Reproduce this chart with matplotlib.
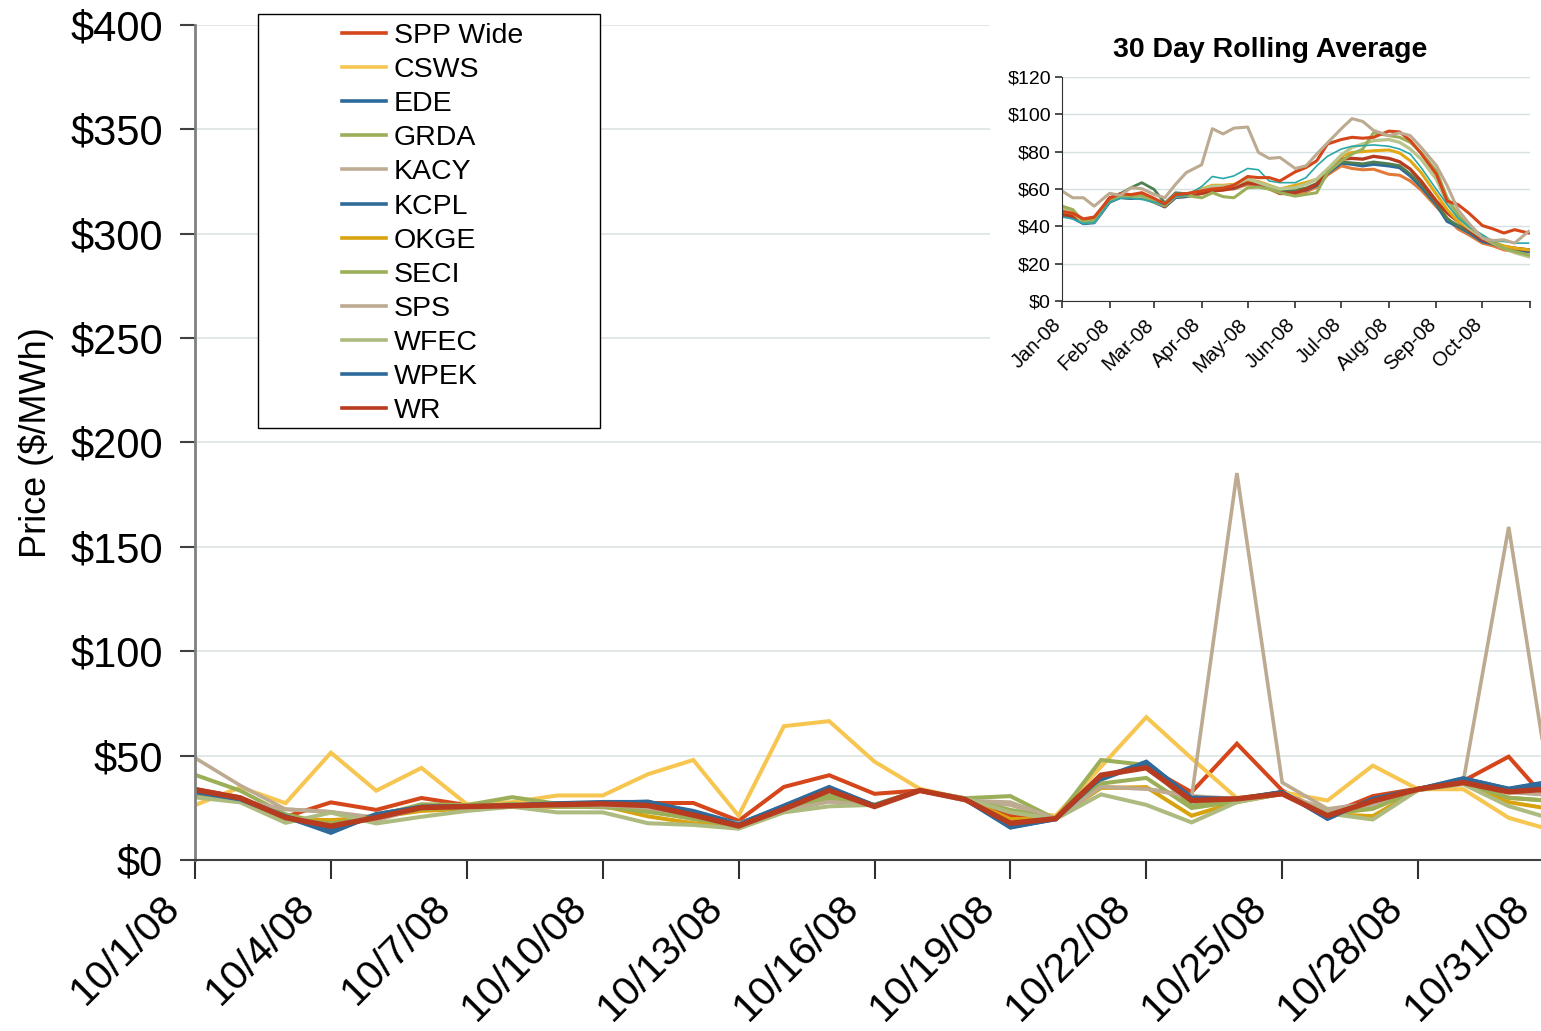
import matplotlib
matplotlib.use("Agg")
import matplotlib.pyplot as plt
import matplotlib.dates as mdates
import matplotlib.transforms as mtransforms
from matplotlib.patches import Rectangle
from datetime import datetime

plt.rcParams['font.family'] = ['Liberation Sans', 'DejaVu Sans']

# ---------------- main chart data (October 2008 daily prices, $/MWh) ----------------
days = list(range(1, 32))
tick_days = [1, 4, 7, 10, 13, 16, 19, 22, 25, 28, 31]
tick_labels = ['10/1/08', '10/4/08', '10/7/08', '10/10/08', '10/13/08', '10/16/08',
               '10/19/08', '10/22/08', '10/25/08', '10/28/08', '10/31/08']
y_ticks = [0, 50, 100, 150, 200, 250, 300, 350, 400]
y_tick_labels = ['$0', '$50', '$100', '$150', '$200', '$250', '$300', '$350', '$400']

series_names = ['SPP Wide', 'CSWS', 'EDE', 'GRDA', 'KACY', 'KCPL', 'OKGE', 'SECI',
                'SPS', 'WFEC', 'WPEK', 'WR']

spp_wide = [34.0, 30.0, 20.7, 27.6, 24.0, 29.7, 26.3, 26.5, 27.0, 27.3, 27.3, 27.3, 18.8, 35.0, 40.6, 31.7,
            33.3, 29.0, 21.2, 20.0, 40.3, 44.7, 32.5, 55.7, 33.3, 21.8, 30.6, 34.2, 37.9, 49.5, 25.0]
csws = [26.3, 34.8, 27.2, 51.4, 33.2, 44.1, 26.7, 27.7, 30.9, 30.9, 41.1, 47.9, 21.2, 64.1, 66.5, 47.1,
        34.1, 29.3, 23.6, 21.2, 44.7, 68.4, 48.7, 29.6, 32.5, 28.5, 45.2, 33.9, 33.9, 20.2, 14.0]
ede = [32.7, 29.2, 20.7, 13.0, 21.9, 25.6, 25.6, 26.0, 27.0, 27.3, 28.0, 22.8, 17.2, 26.1, 35.0, 26.1,
       33.3, 29.0, 15.5, 19.6, 39.0, 47.1, 29.6, 29.3, 32.5, 19.7, 29.0, 33.9, 39.0, 34.2, 37.9]
grda = [40.8, 33.2, 21.9, 17.0, 21.1, 26.7, 26.3, 30.1, 26.9, 26.1, 23.6, 19.6, 16.0, 23.6, 30.9, 26.4,
        33.3, 29.6, 30.6, 19.6, 47.9, 45.5, 26.1, 28.5, 31.7, 22.8, 25.0, 33.9, 37.1, 29.8, 28.2]
kacy = [33.0, 28.5, 24.3, 23.0, 20.3, 24.0, 25.5, 26.0, 25.8, 25.2, 24.4, 21.0, 17.6, 24.0, 28.0, 26.1,
        33.3, 28.5, 26.4, 19.8, 35.0, 34.1, 30.6, 29.3, 31.7, 24.0, 26.5, 33.5, 37.5, 32.5, 31.0]
kcpl = [33.0, 29.5, 21.0, 14.5, 22.0, 25.5, 25.8, 26.0, 26.8, 27.5, 27.6, 23.5, 17.5, 25.5, 34.0, 26.0,
        33.2, 29.0, 16.0, 19.8, 38.5, 46.5, 30.0, 29.0, 32.5, 20.0, 29.2, 33.9, 38.5, 33.5, 36.5]
okge = [31.1, 28.5, 19.5, 19.1, 20.5, 23.5, 24.5, 25.5, 25.5, 26.0, 20.9, 17.6, 16.3, 23.6, 29.3, 26.1,
        33.3, 29.0, 19.6, 19.8, 34.5, 34.9, 21.2, 27.7, 31.7, 22.0, 21.0, 33.5, 37.1, 27.7, 24.2]
seci = [31.5, 28.5, 19.5, 17.5, 20.5, 24.5, 25.0, 27.0, 25.5, 25.5, 23.0, 20.0, 16.0, 24.5, 29.5, 26.5,
        33.3, 29.0, 24.0, 19.8, 36.6, 39.3, 24.9, 28.0, 31.7, 22.0, 24.5, 33.5, 37.0, 29.8, 28.2]
sps = [48.9, 35.7, 24.3, 23.1, 18.8, 25.1, 25.9, 26.0, 26.1, 26.1, 25.2, 21.2, 17.6, 23.6, 28.0, 26.1,
       33.3, 28.5, 27.7, 19.8, 35.0, 34.1, 30.1, 185.3, 37.1, 24.5, 27.4, 33.9, 37.9, 159.5, 22.0]
wfec = [30.0, 27.6, 17.8, 22.7, 17.5, 20.7, 23.5, 25.5, 22.8, 22.8, 17.6, 16.8, 15.0, 22.8, 25.7, 26.4,
        33.3, 29.6, 22.8, 19.6, 31.4, 26.4, 18.0, 27.7, 31.7, 22.3, 19.4, 33.5, 36.3, 25.8, 19.4]
wpek = [32.5, 29.0, 20.5, 13.5, 21.5, 25.5, 25.8, 26.2, 27.2, 27.8, 27.8, 23.0, 17.0, 25.8, 34.5, 26.2,
        33.3, 29.0, 15.8, 19.5, 39.5, 46.8, 29.8, 29.2, 32.6, 19.8, 29.4, 34.0, 39.2, 34.0, 37.5]
wr = [33.7, 29.7, 20.3, 16.2, 20.3, 25.1, 25.6, 26.0, 26.5, 26.9, 26.1, 21.5, 16.3, 24.4, 33.3, 25.6,
      33.3, 29.0, 17.6, 19.8, 40.6, 44.2, 28.5, 29.3, 31.7, 21.2, 28.2, 33.9, 37.1, 32.6, 34.2]

series_values = [spp_wide, csws, ede, grda, kacy, kcpl, okge, seci, sps, wfec, wpek, wr]
series_colors = ['#D5461B', '#F6C650', '#2E6A9B', '#9BAE58', '#BDAB93', '#2F6C98', '#D9A30F',
                 '#9BAE58', '#BCAA91', '#ADBB80', '#2E6A9B', '#B73C1F']
series_widths = [2.9, 2.9, 2.9, 2.9, 2.9, 2.9, 2.9, 2.9, 2.6, 2.9, 2.9, 3.9]

# ---------------- inset data (30-day rolling averages, 2008) ----------------
inset_months = list(range(1, 11))
inset_month_days = [1, 8, 15, 22]
inset_last_day = (10, 31)
inset_tick_labels = ['Jan-08', 'Feb-08', 'Mar-08', 'Apr-08', 'May-08', 'Jun-08', 'Jul-08',
                     'Aug-08', 'Sep-08', 'Oct-08', '']
inset_y_ticks = [0, 20, 40, 60, 80, 100, 120]
inset_y_labels = ['$0', '$20', '$40', '$60', '$80', '$100', '$120']

avg_orange = [46.5, 45.0, 42.0, 42.5, 53.5, 55.5, 55.0, 55.5, 53.0, 50.5, 55.5, 56.0, 57.5, 59.0, 59.5, 60.0,
              62.5, 62.0, 60.0, 57.5, 57.5, 58.5, 61.0, 67.5, 72.4, 71.0, 70.3, 70.6, 67.9, 67.4, 64.3, 59.5,
              50.5, 44.5, 38.6, 35.5, 31.0, 29.5, 27.4, 26.5, 26.5]
avg_blue = [46.0, 44.5, 41.5, 42.0, 53.0, 55.5, 55.0, 55.5, 53.0, 50.5, 55.5, 56.0, 58.0, 59.5, 60.0, 60.5,
            63.5, 62.5, 60.5, 58.0, 58.9, 59.5, 62.0, 68.5, 73.9, 73.3, 72.4, 73.3, 72.4, 71.5, 67.0, 61.3,
            51.7, 42.7, 40.0, 36.8, 31.9, 30.6, 28.8, 27.4, 26.5]
avg_dkgreen = [47.0, 46.0, 42.0, 43.0, 55.0, 57.5, 60.7, 63.4, 59.8, 52.5, 58.0, 57.5, 58.5, 60.0, 60.0, 61.0,
               64.0, 63.0, 61.0, 59.0, 59.5, 60.5, 63.0, 69.5, 74.5, 74.0, 73.5, 74.5, 73.5, 72.5, 68.0, 62.5,
               52.5, 44.0, 40.5, 37.5, 33.0, 30.5, 29.0, 28.0, 27.5]
avg_dkred = [46.3, 45.4, 43.2, 43.6, 55.3, 57.1, 56.2, 57.7, 54.1, 50.8, 56.2, 56.6, 57.7, 58.9, 59.5, 60.7,
             63.4, 62.5, 60.7, 57.7, 58.0, 59.8, 62.5, 69.7, 76.0, 76.4, 76.0, 77.5, 76.4, 74.6, 70.6, 64.3,
             53.5, 47.2, 42.7, 38.2, 32.8, 31.0, 29.2, 28.3, 27.4]
avg_gold = [48.0, 47.0, 42.5, 43.0, 54.0, 56.5, 56.0, 56.5, 54.0, 51.5, 57.0, 57.0, 60.0, 62.0, 62.0, 62.5,
            65.0, 64.0, 62.0, 60.0, 62.0, 63.5, 65.2, 70.6, 77.5, 79.6, 80.0, 80.5, 80.9, 79.3, 75.1, 68.8,
            57.1, 49.0, 42.7, 39.1, 34.6, 31.4, 29.5, 28.3, 27.4]
avg_ltgreen = [49.0, 48.0, 42.0, 42.5, 54.0, 56.0, 55.5, 56.0, 54.0, 52.0, 57.0, 57.0, 59.5, 61.5, 61.5, 62.0,
               65.5, 63.5, 61.5, 60.0, 60.7, 62.5, 65.2, 70.6, 78.2, 82.3, 84.1, 85.9, 86.5, 85.0, 81.4, 76.0,
               65.2, 52.6, 45.4, 39.1, 34.0, 31.0, 28.3, 25.9, 23.8]
avg_olive = [50.8, 49.0, 42.5, 43.0, 53.5, 56.0, 56.0, 56.5, 53.0, 51.0, 56.0, 56.5, 55.3, 58.0, 55.9, 55.3,
             60.7, 61.0, 60.0, 58.0, 56.2, 57.1, 58.0, 68.8, 75.1, 78.7, 81.4, 90.1, 88.6, 87.7, 85.0, 79.6,
             69.7, 55.3, 46.3, 40.0, 34.6, 31.4, 28.3, 26.5, 24.7]
avg_teal = [45.0, 44.0, 41.5, 42.0, 53.0, 55.0, 55.0, 54.4, 53.0, 51.5, 56.0, 56.5, 61.3, 66.7, 65.6, 67.0,
            71.0, 70.3, 64.3, 63.4, 63.4, 66.1, 72.4, 77.5, 81.4, 82.9, 83.2, 83.6, 82.9, 81.4, 78.7, 71.5,
            59.8, 51.7, 44.5, 40.0, 35.5, 31.9, 31.9, 31.0, 31.0]
avg_orred = [48.0, 47.0, 44.0, 45.0, 55.0, 57.5, 57.0, 58.0, 55.0, 52.0, 57.0, 57.5, 59.0, 60.0, 60.5, 62.0,
             66.7, 66.1, 66.1, 64.3, 69.2, 71.5, 75.1, 84.1, 86.5, 87.7, 87.2, 87.7, 91.0, 90.6, 86.0, 79.0,
             67.9, 53.5, 51.7, 47.2, 40.4, 38.6, 36.4, 38.2, 36.4]
avg_tan = [58.9, 55.3, 55.3, 50.8, 57.7, 56.6, 60.7, 60.2, 57.1, 55.3, 62.5, 68.8, 73.0, 92.3, 89.5, 92.6,
           93.2, 79.6, 76.4, 76.9, 71.0, 72.4, 78.7, 84.7, 92.3, 97.7, 96.2, 91.4, 88.6, 90.1, 88.6, 82.3,
           72.6, 61.8, 49.0, 41.8, 33.7, 32.4, 32.8, 31.0, 37.3]

inset_values = [avg_orange, avg_blue, avg_dkgreen, avg_dkred, avg_gold, avg_ltgreen, avg_olive,
                avg_teal, avg_orred, avg_tan]
inset_colors = ['#E27B3A', '#2E6A9B', '#4E7F50', '#B73C1F', '#E3A812', '#B9C58E', '#9BAE58',
                '#2AA8A8', '#D5461B', '#BCAA91']
inset_widths = [2.2, 2.4, 2.0, 2.4, 2.2, 2.4, 2.2, 1.2, 2.2, 2.2]

# ---------------- figure ----------------
W, H = 1541, 1031
fig = plt.figure(figsize=(W / 100, H / 100), dpi=100)
fig.patch.set_facecolor('white')


def fx(px):
    return px / W


def fy(py):
    return 1 - py / H


def shift(dx_px, dy_px):
    return mtransforms.ScaledTranslation(dx_px / 100, dy_px / 100, fig.dpi_scale_trans)


# main axes (extends slightly past the right edge, as in the original crop)
ax = fig.add_axes([fx(195), fy(860), fx(1554) - fx(195), fy(24.8) - fy(860)])
dates = [datetime(2008, 10, d) for d in days]
for name, vals, col, lw in zip(series_names, series_values, series_colors, series_widths):
    ax.plot(dates, vals, color=col, lw=lw, label=name, solid_joinstyle='miter')

ax.set_xlim(datetime(2008, 10, 1), datetime(2008, 10, 31))
ax.set_ylim(0, 400)
ax.set_yticks(y_ticks)
ax.set_yticklabels(y_tick_labels, fontsize=30)
ax.set_xticks([datetime(2008, 10, d) for d in tick_days])
ax.tick_params(axis='y', length=11, width=1.5, color='#404040', pad=12, direction='out')
ax.tick_params(axis='x', length=14, width=1.5, color='#303030', pad=6, direction='out')
ax.set_xticklabels(tick_labels, fontsize=29.5, rotation=45, ha='right', rotation_mode='anchor')
xlbls = ax.get_xticklabels()
for i, lbl in enumerate(xlbls):
    dx = -44 if i == len(xlbls) - 1 else -35
    lbl.set_transform(lbl.get_transform() + shift(dx, 0))
ax.yaxis.grid(True, color='#DDE4E4', lw=1.2)
ax.set_axisbelow(True)
for s in ['top', 'right']:
    ax.spines[s].set_visible(False)
ax.spines['left'].set_color('#808080')
ax.spines['left'].set_linewidth(2)
ax.spines['bottom'].set_color('#404040')
ax.spines['bottom'].set_linewidth(1.5)
ax.set_ylabel('Price ($/MWh)', fontsize=26, labelpad=12)

# legend with a wider frame
fig.patches.append(Rectangle((fx(258), fy(428)), fx(600) - fx(258), fy(14) - fy(428),
                             transform=fig.transFigure, facecolor='white', edgecolor='black',
                             lw=1.0, zorder=1))
leg = fig.legend(loc='upper left', bbox_to_anchor=(fx(342), fy(23)), bbox_transform=fig.transFigure,
                 frameon=False, fontsize=20.5, borderpad=0, borderaxespad=0, labelspacing=0.285,
                 handlelength=1.55, handletextpad=0.27)
leg.set_zorder(2)
for line in leg.get_lines():
    line.set_linewidth(2.6)

# white backdrop for inset chart object
fig.patches.append(Rectangle((fx(990), fy(392)), 1 - fx(990), 1 - fy(392) + 0.01,
                             transform=fig.transFigure, facecolor='white', edgecolor='none', zorder=1))

# inset axes
ax2 = fig.add_axes([fx(1062), fy(301), fx(1530) - fx(1062), fy(77) - fy(301)])
ax2.set_zorder(3)
inset_dates = [datetime(2008, m, d) for m in inset_months for d in inset_month_days]
inset_dates.append(datetime(2008, *inset_last_day))
for vals, col, lw in zip(inset_values, inset_colors, inset_widths):
    ax2.plot(inset_dates, vals, color=col, lw=lw)
ax2.set_xlim(datetime(2008, 1, 1), datetime(2008, 11, 1))
ax2.set_ylim(0, 120)
ax2.set_yticks(inset_y_ticks)
ax2.set_yticklabels(inset_y_labels, fontsize=14)
ax2.set_xticks([datetime(2008, m, 1) for m in range(1, 12)])
ax2.tick_params(axis='both', length=5, width=1.2, color='#303030', pad=3)
ax2.set_xticklabels(inset_tick_labels, fontsize=14.5, rotation=45, ha='right', rotation_mode='anchor')
for lbl in ax2.get_xticklabels():
    lbl.set_transform(lbl.get_transform() + shift(-10, -3))
ax2.yaxis.grid(True, color='#D5E1E1', lw=1.0)
ax2.set_axisbelow(True)
for s in ['top', 'right']:
    ax2.spines[s].set_visible(False)
ax2.spines['left'].set_color('#303030')
ax2.spines['bottom'].set_color('#303030')
fig.text(fx(1270), fy(50), '30 Day Rolling Average', fontsize=20.5, fontweight='bold',
         ha='center', va='center')

fig.savefig('out.png', dpi=100)
